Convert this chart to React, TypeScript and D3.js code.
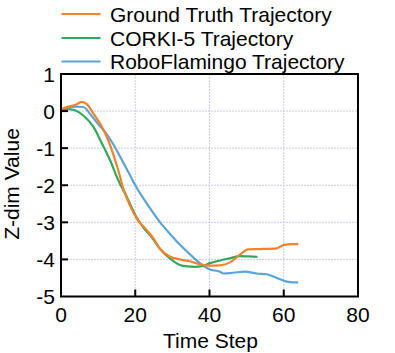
import React from "react";
import * as d3 from "d3";

const groundT = [0, 2, 4, 5.6, 7, 8.7, 11, 12.7, 13.7, 15.4, 16.8, 18.6, 20.4, 23.1, 24.9, 26.7, 29.4, 32, 34.7, 37.4, 40, 42.8, 45.5, 48.2, 50.4, 53.6, 58.1, 60, 62, 63.9];
const groundV = [0.05, 0.12, 0.17, 0.25, 0.18, -0.06, -0.42, -0.78, -1.05, -1.59, -2.1, -2.55, -2.9, -3.21, -3.43, -3.72, -3.93, -4.0, -4.05, -4.13, -4.17, -4.16, -4.08, -3.87, -3.73, -3.72, -3.7, -3.61, -3.59, -3.59];

const corkiT = [0, 2, 3.5, 6, 8.7, 11, 13.2, 15.4, 17.7, 20, 22.2, 24.4, 26.7, 29.4, 32, 34, 36, 38, 40.1, 42.8, 45.5, 48.2, 50.4, 52.9];
const corkiV = [0.05, 0.05, 0.03, -0.12, -0.42, -0.87, -1.32, -1.86, -2.31, -2.8, -3.14, -3.4, -3.72, -3.98, -4.15, -4.19, -4.2, -4.18, -4.1, -4.03, -3.97, -3.91, -3.92, -3.93];

const roboT = [0, 2, 4, 6, 8, 10, 12, 14, 16.3, 18.6, 20, 23.1, 26.7, 29.8, 32, 34.7, 37.4, 40.1, 42.8, 43.7, 46.4, 49.6, 52.7, 55.4, 58.1, 60.8, 62.5, 63.9];
const roboV = [0.05, 0.09, 0.12, 0.11, -0.1, -0.35, -0.58, -0.88, -1.3, -1.73, -2.0, -2.49, -3.0, -3.36, -3.6, -3.86, -4.1, -4.27, -4.33, -4.38, -4.36, -4.33, -4.38, -4.4, -4.5, -4.6, -4.62, -4.62];

const xTicks = [0, 20, 40, 60, 80];
const yTicks = [1, 0, -1, -2, -3, -4, -5];

const seriesNames = ["Ground Truth Trajectory", "CORKI-5 Trajectory", "RoboFlamingo Trajectory"];
const seriesColors = ["#f5822a", "#33a75a", "#5ba4d8"];

export default function App() {
  const W = 395, H = 353;
  const left = 61, right = 358, top = 74, bottom = 296.5;
  const x = d3.scaleLinear().domain([0, 80]).range([left, right]);
  const y = d3.scaleLinear().domain([-5, 1]).range([bottom, top]);
  const line = d3
    .line<[number, number]>()
    .x((d) => x(d[0]))
    .y((d) => y(d[1]))
    .curve(d3.curveMonotoneX);

  const series = [
    groundT.map((t, i) => [t, groundV[i]] as [number, number]),
    corkiT.map((t, i) => [t, corkiV[i]] as [number, number]),
    roboT.map((t, i) => [t, roboV[i]] as [number, number]),
  ];
  const drawOrder = [2, 1, 0];
  const font = "'Liberation Sans', Arial, sans-serif";
  const legendY = [14, 38, 61.5];
  const fs = 21;

  return (
    <svg width={W} height={H} style={{ position: "absolute", left: 0, top: 0, background: "#fff" }} fontFamily={font}>
      {xTicks.slice(1, -1).map((t) => (
        <line key={"gx" + t} x1={x(t)} x2={x(t)} y1={top} y2={bottom} stroke="#c9c9f7" strokeWidth={1} strokeDasharray="2,1" />
      ))}
      {yTicks.slice(1, -1).map((t) => (
        <line key={"gy" + t} x1={left} x2={right} y1={y(t)} y2={y(t)} stroke="#c9c9f7" strokeWidth={1} strokeDasharray="2,1" />
      ))}
      {drawOrder.map((i) => (
        <path key={"s" + i} d={line(series[i]) || ""} fill="none" stroke={seriesColors[i]} strokeWidth={2.2} strokeLinejoin="round" />
      ))}
      <rect x={left} y={top} width={right - left} height={bottom - top} fill="none" stroke="#000" strokeWidth={2} />
      {xTicks.slice(1, -1).map((t) => (
        <line key={"tx" + t} x1={x(t)} x2={x(t)} y1={bottom} y2={bottom - 7} stroke="#000" strokeWidth={2} />
      ))}
      {yTicks.slice(1, -1).map((t) => (
        <line key={"ty" + t} x1={left} x2={left + 7} y1={y(t)} y2={y(t)} stroke="#000" strokeWidth={2} />
      ))}
      {xTicks.map((t) => (
        <text key={"lx" + t} x={x(t)} y={322} textAnchor="middle" fontSize={fs} fill="#000">
          {t}
        </text>
      ))}
      {yTicks.map((t) => (
        <text key={"ly" + t} x={55} y={y(t)} dy="0.36em" textAnchor="end" fontSize={fs} fill="#000">
          {t}
        </text>
      ))}
      <text x={(left + right) / 2 + 1} y={348} textAnchor="middle" fontSize={fs} fill="#000">
        Time Step
      </text>
      <text transform={`translate(19,${184}) rotate(-90)`} textAnchor="middle" fontSize={fs} fill="#000">
        Z-dim Value
      </text>
      {seriesNames.map((n, i) => (
        <g key={"lg" + i}>
          <line x1={61.5} x2={100.5} y1={legendY[i]} y2={legendY[i]} stroke={seriesColors[i]} strokeWidth={2.2} />
          <text x={110} y={legendY[i]} dy="0.36em" fontSize={fs} fill="#000">
            {n}
          </text>
        </g>
      ))}
    </svg>
  );
}
